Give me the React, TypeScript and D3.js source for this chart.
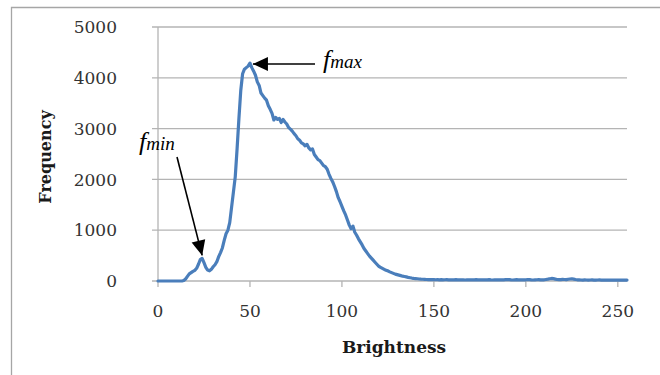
import React from "react"
import * as d3 from "d3"

const W = 660
const H = 375
const MARGIN = { top: 27, right: 33, bottom: 94, left: 158 }

// histogram counts per brightness level 0..255
const frequency: number[] = [
  0, 0, 0, 0, 0, 0, 0, 0, 0, 0, 0, 0, 0, 0, 10, 40, 90, 140, 165, 190,
  210, 250, 330, 420, 445, 360, 270, 215, 200, 230, 280, 320, 380, 480, 560, 650, 800, 930, 1000, 1150,
  1450, 1750, 2050, 2600, 3200, 3750, 4080, 4170, 4200, 4230, 4290, 4200, 4130, 4050, 3920, 3850, 3700, 3650, 3600, 3560,
  3450, 3380, 3300, 3170, 3220, 3180, 3200, 3120, 3180, 3130, 3090, 3020, 2990, 2950, 2900, 2860, 2800, 2770, 2720, 2700,
  2660, 2690, 2620, 2580, 2600, 2490, 2440, 2390, 2370, 2320, 2270, 2250, 2200, 2100, 2020, 1950, 1860, 1760, 1640, 1560,
  1470, 1380, 1300, 1200, 1100, 1030, 1080, 960, 900, 830, 770, 710, 640, 590, 540, 490, 450, 410, 370, 330,
  290, 270, 250, 230, 210, 200, 180, 165, 150, 135, 125, 115, 105, 95, 88, 80, 72, 65, 58, 52,
  48, 44, 40, 36, 34, 32, 30, 28, 27, 26, 28, 25, 27, 24, 26, 22, 25, 27, 23, 25,
  24, 22, 26, 23, 21, 24, 22, 20, 23, 25, 21, 24, 22, 26, 24, 22, 25, 23, 21, 24,
  26, 22, 20, 23, 25, 22, 24, 21, 23, 27, 30, 26, 22, 20, 24, 26, 23, 21, 25, 22,
  24, 28, 26, 22, 20, 23, 25, 27, 22, 21, 24, 30, 36, 44, 50, 46, 38, 30, 26, 28,
  32, 30, 26, 34, 40, 44, 38, 30, 24, 22, 20, 19, 21, 20, 18, 20, 22, 19, 18, 20,
  21, 19, 18, 20, 19, 18, 20, 19, 18, 20, 19, 18, 20, 19, 18, 19,
]
const brightness = frequency.map((_, i) => i)

const xTicks = [0, 50, 100, 150, 200, 250]
const yTicks = [0, 1000, 2000, 3000, 4000, 5000]

const SERIF = "'DejaVu Serif', serif"
const ITALIC = "'Liberation Serif', serif"

export default function App() {
  const innerW = W - MARGIN.left - MARGIN.right
  const innerH = H - MARGIN.top - MARGIN.bottom

  const x = d3.scaleLinear().domain([0, 255]).range([MARGIN.left, MARGIN.left + innerW])
  const y = d3.scaleLinear().domain([0, 5000]).range([MARGIN.top + innerH, MARGIN.top])

  const line = d3
    .line<number>()
    .x((_, i) => x(brightness[i]))
    .y((d) => y(d))

  const x0 = x(0)
  const x1 = x(255)
  const yBase = y(0)

  // annotation anchors, taken from the data
  const minIdx = 24
  const maxIdx = frequency.indexOf(d3.max(frequency) ?? 0)
  const minTip = [x(minIdx), y(frequency[minIdx]) - 3]
  const maxTip = [x(maxIdx) + 3, y(frequency[maxIdx]) + 1]

  const arrowHead = (tip: number[], from: number[]) => {
    const ang = Math.atan2(tip[1] - from[1], tip[0] - from[0])
    const len = 15
    const half = 7
    const bx = tip[0] - len * Math.cos(ang)
    const by = tip[1] - len * Math.sin(ang)
    const px = -Math.sin(ang) * half
    const py = Math.cos(ang) * half
    return `M${tip[0]},${tip[1]}L${bx + px},${by + py}L${bx - px},${by - py}Z`
  }

  const minFrom = [177, 157]
  const maxFrom = [315, maxTip[1]]

  return (
    <svg
      width={W}
      height={H}
      style={{ position: "fixed", left: 0, top: 0, background: "#fff" }}
    >
      {/* outer frame (only left and top edges visible) */}
      <path d={`M11.5,${H}V7.5H${W}`} fill="none" stroke="#a6a6a6" strokeWidth={1.3} />

      {/* gridlines */}
      {yTicks.map((t) => (
        <line
          key={t}
          x1={x0 - 6}
          x2={x1}
          y1={y(t)}
          y2={y(t)}
          stroke="#b4b4b4"
          strokeWidth={1.3}
        />
      ))}

      {/* y axis line */}
      <line x1={x0} x2={x0} y1={y(5000)} y2={yBase} stroke="#b4b4b4" strokeWidth={1.3} />

      {/* x ticks */}
      {xTicks.map((t) => (
        <line key={t} x1={x(t)} x2={x(t)} y1={yBase} y2={yBase + 6} stroke="#b4b4b4" strokeWidth={1.3} />
      ))}

      {/* tick labels */}
      {yTicks.map((t) => (
        <text
          key={t}
          x={117}
          y={y(t)}
          dy="0.36em"
          textAnchor="end"
          fontFamily={SERIF}
          fontSize={17}
          fill="#333"
        >
          {t}
        </text>
      ))}
      {xTicks.map((t) => (
        <text
          key={t}
          x={x(t)}
          y={311}
          dy="0.36em"
          textAnchor="middle"
          fontFamily={SERIF}
          fontSize={17}
          fill="#333"
        >
          {t}
        </text>
      ))}

      {/* axis titles */}
      <text
        x={394}
        y={347}
        dy="0.36em"
        textAnchor="middle"
        fontFamily={SERIF}
        fontWeight="bold"
        fontSize={17}
        fill="#1a1a1a"
      >
        Brightness
      </text>
      <text
        transform={`translate(45,157) rotate(-90)`}
        dy="0.36em"
        textAnchor="middle"
        fontFamily={SERIF}
        fontWeight="bold"
        fontSize={16}
        fill="#1a1a1a"
      >
        Frequency
      </text>

      {/* data line */}
      <path
        d={line(frequency) ?? ""}
        fill="none"
        stroke="#4a7ebb"
        strokeWidth={3.2}
        strokeLinejoin="round"
        strokeLinecap="round"
      />

      {/* annotations */}
      <line x1={minFrom[0]} y1={minFrom[1]} x2={minTip[0]} y2={minTip[1]} stroke="#000" strokeWidth={1.6} />
      <path d={arrowHead(minTip, minFrom)} fill="#000" />
      <line x1={maxFrom[0]} y1={maxFrom[1]} x2={maxTip[0]} y2={maxTip[1]} stroke="#000" strokeWidth={1.6} />
      <path d={arrowHead(maxTip, maxFrom)} fill="#000" />

      <text x={139} y={150} fontFamily={ITALIC} fontStyle="italic" fill="#000">
        <tspan fontSize={26}>f</tspan>
        <tspan fontSize={19}>min</tspan>
      </text>
      <text x={323} y={68} fontFamily={ITALIC} fontStyle="italic" fill="#000">
        <tspan fontSize={26}>f</tspan>
        <tspan fontSize={19}>max</tspan>
      </text>
    </svg>
  )
}
